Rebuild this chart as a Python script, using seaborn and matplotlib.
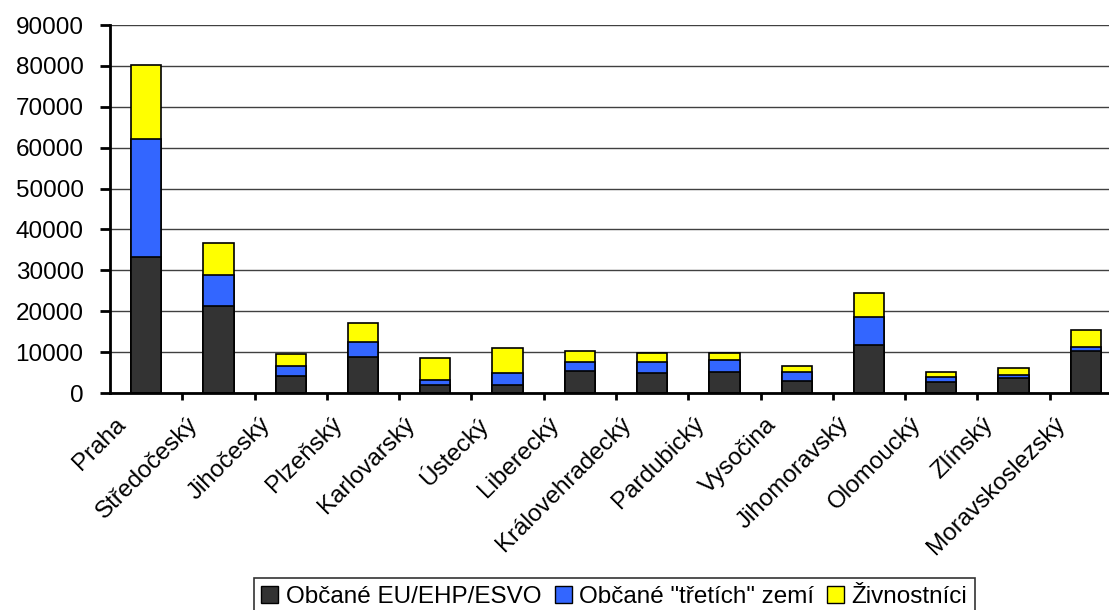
import pandas as pd
import seaborn as sns
import matplotlib.pyplot as plt
from matplotlib.patches import Patch
from matplotlib.ticker import FixedLocator
from matplotlib.transforms import ScaledTranslation

regions = ['Praha', 'Středočeský', 'Jihočeský', 'Plzeňský', 'Karlovarský', 'Ústecký',
           'Liberecký', 'Královehradecký', 'Pardubický', 'Vysočina', 'Jihomoravský',
           'Olomoucký', 'Zlínský', 'Moravskoslezský']
eu = [33200, 21200, 4100, 8800, 1900, 1900, 5500, 5000, 5200, 3000, 11700, 2700, 3700, 10200]
third = [28900, 7600, 2500, 3600, 1400, 3000, 2200, 2700, 2800, 2200, 6900, 1100, 700, 1100]
trade = [18100, 8000, 2900, 4700, 5200, 6100, 2600, 2200, 1900, 1500, 5900, 1400, 1600, 4100]
series_names = ['Občané EU/EHP/ESVO', 'Občané "třetích" zemí', 'Živnostníci']
colors = ['#333333', '#3366ff', '#ffff00']

data = pd.DataFrame({'region': regions, 'eu': eu, 'third': third, 'trade': trade})
data['c1'] = data['eu']
data['c2'] = data['c1'] + data['third']
data['c3'] = data['c2'] + data['trade']

sns.set_style('white')
plt.rcParams['font.family'] = ['Liberation Sans', 'DejaVu Sans']
plt.rcParams['text.color'] = 'black'
fs = 17.5

fig = plt.figure(figsize=[11.09, 6.10], dpi=100)
ax = fig.add_axes([110 / 1109, 1 - 393 / 610, 1012 / 1109, 368 / 610])

# stacked bars: draw cumulative totals from the top layer down
for col, c in zip(['c3', 'c2', 'c1'], colors[::-1]):
    sns.barplot(data=data, x='region', y=col, color=c, saturation=1, width=0.42,
                edgecolor='black', linewidth=1.2, ax=ax, zorder=3)

ax.set_xlim(-0.5, 13.5)
ax.set_ylim(0, 90000)
ax.set_yticks(range(0, 90001, 10000))
ax.yaxis.grid(True, color='#404040', lw=1)
ax.set_axisbelow(True)
ax.set_xlabel('')
ax.set_ylabel('')

for s in ['top', 'right']:
    ax.spines[s].set_visible(False)
for s in ['left', 'bottom']:
    ax.spines[s].set_color('black')
    ax.spines[s].set_linewidth(2)
    ax.spines[s].set_zorder(4)

ax.tick_params(axis='y', which='major', direction='out', length=7, width=2,
               color='black', labelcolor='black', pad=12, labelsize=fs, left=True)
ax.tick_params(axis='x', which='major', length=0, pad=10, labelsize=fs,
               labelcolor='black')
ax.xaxis.set_minor_locator(FixedLocator([i + 0.5 for i in range(13)]))
ax.tick_params(axis='x', which='minor', direction='out', length=5, width=2,
               color='black', bottom=True)
shift = ScaledTranslation(-24 / 100, -14 / 100, fig.dpi_scale_trans)
for lbl in ax.get_xticklabels():
    lbl.set_rotation(45)
    lbl.set_ha('right')
    lbl.set_va('center')
    lbl.set_rotation_mode('anchor')
    lbl.set_transform(lbl.get_transform() + shift)

handles = [Patch(facecolor=c, edgecolor='black', lw=1) for c in colors]
leg = fig.legend(handles, series_names, loc='lower center', bbox_to_anchor=(0.554, -0.008),
                 ncol=3, fontsize=fs, frameon=True, fancybox=False, edgecolor='black',
                 handlelength=0.7, handleheight=0.7, handletextpad=0.3,
                 columnspacing=0.55, borderpad=0.3, borderaxespad=0)
leg.get_frame().set_linewidth(1.2)

fig.savefig('out.png', dpi=100)
